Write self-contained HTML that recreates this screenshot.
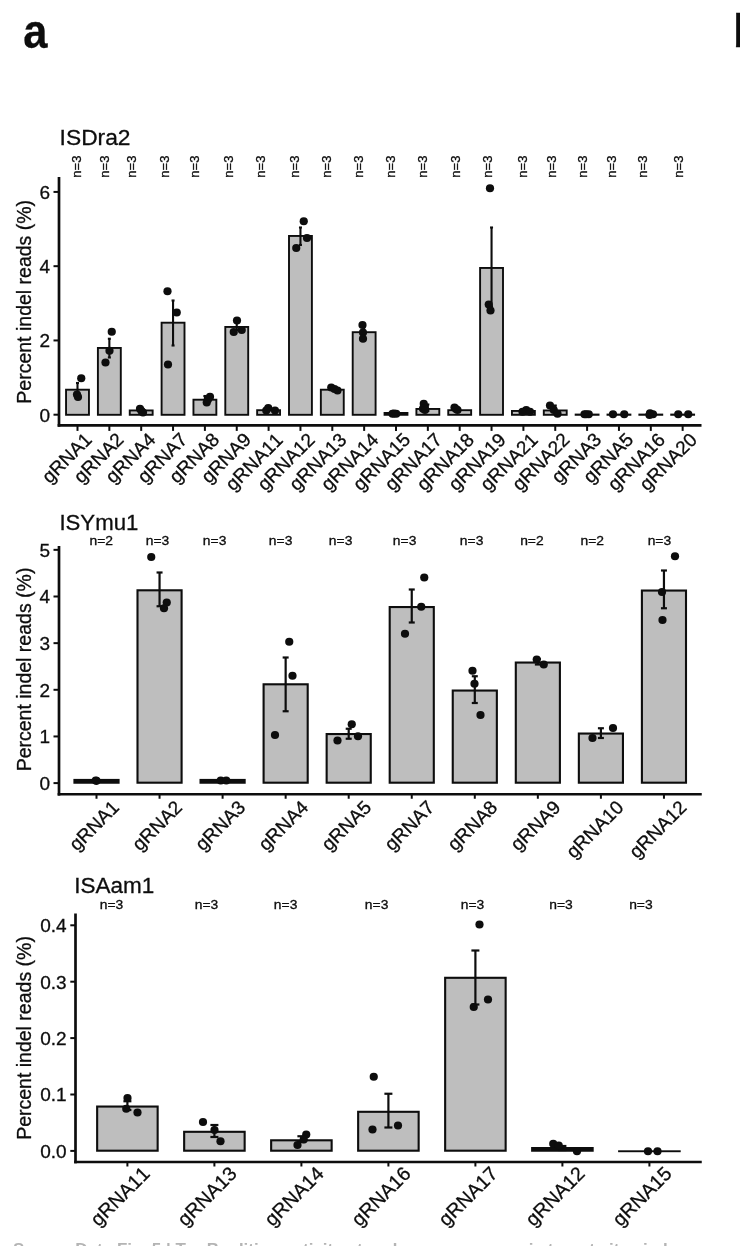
<!DOCTYPE html>
<html lang="en">
<head>
<meta charset="utf-8">
<title>Figure panel a</title>
<style>
html,body{margin:0;padding:0;background:#fff;}
body{width:740px;height:1246px;overflow:hidden;}
svg{display:block;font-family:'Liberation Sans', Arial, Helvetica, sans-serif;font-kerning:none;}
text{stroke:#0d0d0d;stroke-width:0.3px;}
</style>
</head>
<body>
<svg width="740" height="1246" viewBox="0 0 740 1246">
<rect x="0" y="0" width="740" height="1246" fill="#ffffff"/>
<text x="23.20" y="47.60" font-size="49" text-anchor="start" font-weight="bold" fill="#0d0d0d" textLength="24.2" lengthAdjust="spacingAndGlyphs">a</text>
<text x="733.00" y="47.30" font-size="46.5" text-anchor="start" font-weight="bold" fill="#0d0d0d">b</text>
<text x="59.60" y="145.40" font-size="22.8" text-anchor="start" fill="#0d0d0d">ISDra2</text>
<text x="31.20" y="301.80" font-size="19.5" text-anchor="middle" fill="#0d0d0d" transform="rotate(-90 31.20 301.80)">Percent indel reads (%)</text>
<line x1="53.50" y1="414.70" x2="59.00" y2="414.70" stroke="#0d0d0d" stroke-width="2" stroke-linecap="butt"/>
<text x="50.20" y="421.60" font-size="19" text-anchor="end" fill="#0d0d0d">0</text>
<line x1="53.50" y1="340.44" x2="59.00" y2="340.44" stroke="#0d0d0d" stroke-width="2" stroke-linecap="butt"/>
<text x="50.20" y="347.34" font-size="19" text-anchor="end" fill="#0d0d0d">2</text>
<line x1="53.50" y1="266.18" x2="59.00" y2="266.18" stroke="#0d0d0d" stroke-width="2" stroke-linecap="butt"/>
<text x="50.20" y="273.08" font-size="19" text-anchor="end" fill="#0d0d0d">4</text>
<line x1="53.50" y1="191.92" x2="59.00" y2="191.92" stroke="#0d0d0d" stroke-width="2" stroke-linecap="butt"/>
<text x="50.20" y="198.82" font-size="19" text-anchor="end" fill="#0d0d0d">6</text>
<rect x="66.05" y="389.70" width="22.90" height="25.10" fill="#bebebe" stroke="#0d0d0d" stroke-width="1.9"/>
<rect x="97.90" y="347.95" width="22.90" height="66.85" fill="#bebebe" stroke="#0d0d0d" stroke-width="1.9"/>
<rect x="129.75" y="410.45" width="22.90" height="4.35" fill="#bebebe" stroke="#0d0d0d" stroke-width="1.9"/>
<rect x="161.60" y="322.70" width="22.90" height="92.10" fill="#bebebe" stroke="#0d0d0d" stroke-width="1.9"/>
<rect x="193.45" y="399.70" width="22.90" height="15.10" fill="#bebebe" stroke="#0d0d0d" stroke-width="1.9"/>
<rect x="225.30" y="326.95" width="22.90" height="87.85" fill="#bebebe" stroke="#0d0d0d" stroke-width="1.9"/>
<rect x="257.15" y="410.20" width="22.90" height="4.60" fill="#bebebe" stroke="#0d0d0d" stroke-width="1.9"/>
<rect x="289.00" y="235.95" width="22.90" height="178.85" fill="#bebebe" stroke="#0d0d0d" stroke-width="1.9"/>
<rect x="320.85" y="389.70" width="22.90" height="25.10" fill="#bebebe" stroke="#0d0d0d" stroke-width="1.9"/>
<rect x="352.70" y="332.20" width="22.90" height="82.60" fill="#bebebe" stroke="#0d0d0d" stroke-width="1.9"/>
<rect x="383.60" y="412.00" width="24.80" height="3.75" fill="#0d0d0d"/>
<rect x="416.40" y="408.95" width="22.90" height="5.85" fill="#bebebe" stroke="#0d0d0d" stroke-width="1.9"/>
<rect x="448.25" y="410.20" width="22.90" height="4.60" fill="#bebebe" stroke="#0d0d0d" stroke-width="1.9"/>
<rect x="480.10" y="267.95" width="22.90" height="146.85" fill="#bebebe" stroke="#0d0d0d" stroke-width="1.9"/>
<rect x="511.95" y="410.95" width="22.90" height="3.85" fill="#bebebe" stroke="#0d0d0d" stroke-width="1.9"/>
<rect x="543.80" y="410.45" width="22.90" height="4.35" fill="#bebebe" stroke="#0d0d0d" stroke-width="1.9"/>
<rect x="574.70" y="413.60" width="24.80" height="2.15" fill="#0d0d0d"/>
<rect x="606.55" y="413.60" width="24.80" height="2.15" fill="#0d0d0d"/>
<rect x="638.40" y="413.60" width="24.80" height="2.15" fill="#0d0d0d"/>
<rect x="670.25" y="413.60" width="24.80" height="2.15" fill="#0d0d0d"/>
<line x1="77.50" y1="383.00" x2="77.50" y2="396.00" stroke="#0d0d0d" stroke-width="2.1" stroke-linecap="butt"/>
<line x1="76.00" y1="383.00" x2="79.00" y2="383.00" stroke="#0d0d0d" stroke-width="2.1" stroke-linecap="butt"/>
<line x1="76.00" y1="396.00" x2="79.00" y2="396.00" stroke="#0d0d0d" stroke-width="2.1" stroke-linecap="butt"/>
<line x1="109.35" y1="338.75" x2="109.35" y2="357.50" stroke="#0d0d0d" stroke-width="2.1" stroke-linecap="butt"/>
<line x1="107.85" y1="338.75" x2="110.85" y2="338.75" stroke="#0d0d0d" stroke-width="2.1" stroke-linecap="butt"/>
<line x1="107.85" y1="357.50" x2="110.85" y2="357.50" stroke="#0d0d0d" stroke-width="2.1" stroke-linecap="butt"/>
<line x1="173.05" y1="300.50" x2="173.05" y2="345.50" stroke="#0d0d0d" stroke-width="2.1" stroke-linecap="butt"/>
<line x1="171.55" y1="300.50" x2="174.55" y2="300.50" stroke="#0d0d0d" stroke-width="2.1" stroke-linecap="butt"/>
<line x1="171.55" y1="345.50" x2="174.55" y2="345.50" stroke="#0d0d0d" stroke-width="2.1" stroke-linecap="butt"/>
<line x1="204.90" y1="396.00" x2="204.90" y2="402.00" stroke="#0d0d0d" stroke-width="2.1" stroke-linecap="butt"/>
<line x1="203.40" y1="396.00" x2="206.40" y2="396.00" stroke="#0d0d0d" stroke-width="2.1" stroke-linecap="butt"/>
<line x1="203.40" y1="402.00" x2="206.40" y2="402.00" stroke="#0d0d0d" stroke-width="2.1" stroke-linecap="butt"/>
<line x1="236.75" y1="322.50" x2="236.75" y2="330.00" stroke="#0d0d0d" stroke-width="2.1" stroke-linecap="butt"/>
<line x1="235.25" y1="322.50" x2="238.25" y2="322.50" stroke="#0d0d0d" stroke-width="2.1" stroke-linecap="butt"/>
<line x1="235.25" y1="330.00" x2="238.25" y2="330.00" stroke="#0d0d0d" stroke-width="2.1" stroke-linecap="butt"/>
<line x1="300.45" y1="227.50" x2="300.45" y2="245.00" stroke="#0d0d0d" stroke-width="2.1" stroke-linecap="butt"/>
<line x1="298.95" y1="227.50" x2="301.95" y2="227.50" stroke="#0d0d0d" stroke-width="2.1" stroke-linecap="butt"/>
<line x1="298.95" y1="245.00" x2="301.95" y2="245.00" stroke="#0d0d0d" stroke-width="2.1" stroke-linecap="butt"/>
<line x1="364.15" y1="326.50" x2="364.15" y2="337.00" stroke="#0d0d0d" stroke-width="2.1" stroke-linecap="butt"/>
<line x1="362.65" y1="326.50" x2="365.65" y2="326.50" stroke="#0d0d0d" stroke-width="2.1" stroke-linecap="butt"/>
<line x1="362.65" y1="337.00" x2="365.65" y2="337.00" stroke="#0d0d0d" stroke-width="2.1" stroke-linecap="butt"/>
<line x1="491.55" y1="227.50" x2="491.55" y2="306.50" stroke="#0d0d0d" stroke-width="2.1" stroke-linecap="butt"/>
<line x1="490.05" y1="227.50" x2="493.05" y2="227.50" stroke="#0d0d0d" stroke-width="2.1" stroke-linecap="butt"/>
<line x1="490.05" y1="306.50" x2="493.05" y2="306.50" stroke="#0d0d0d" stroke-width="2.1" stroke-linecap="butt"/>
<line x1="427.85" y1="404.50" x2="427.85" y2="411.00" stroke="#0d0d0d" stroke-width="2.1" stroke-linecap="butt"/>
<line x1="426.35" y1="404.50" x2="429.35" y2="404.50" stroke="#0d0d0d" stroke-width="2.1" stroke-linecap="butt"/>
<line x1="426.35" y1="411.00" x2="429.35" y2="411.00" stroke="#0d0d0d" stroke-width="2.1" stroke-linecap="butt"/>
<line x1="555.25" y1="405.50" x2="555.25" y2="413.00" stroke="#0d0d0d" stroke-width="2.1" stroke-linecap="butt"/>
<line x1="553.75" y1="405.50" x2="556.75" y2="405.50" stroke="#0d0d0d" stroke-width="2.1" stroke-linecap="butt"/>
<line x1="553.75" y1="413.00" x2="556.75" y2="413.00" stroke="#0d0d0d" stroke-width="2.1" stroke-linecap="butt"/>
<circle cx="81.25" cy="378.25" r="4.1" fill="#0d0d0d"/>
<circle cx="77.00" cy="394.50" r="4.1" fill="#0d0d0d"/>
<circle cx="78.00" cy="397.00" r="4.1" fill="#0d0d0d"/>
<circle cx="111.75" cy="331.75" r="4.1" fill="#0d0d0d"/>
<circle cx="109.50" cy="350.75" r="4.1" fill="#0d0d0d"/>
<circle cx="105.50" cy="362.50" r="4.1" fill="#0d0d0d"/>
<circle cx="140.00" cy="408.75" r="4.1" fill="#0d0d0d"/>
<circle cx="143.00" cy="412.50" r="4.1" fill="#0d0d0d"/>
<circle cx="141.50" cy="411.00" r="4.1" fill="#0d0d0d"/>
<circle cx="167.50" cy="291.25" r="4.1" fill="#0d0d0d"/>
<circle cx="176.75" cy="312.50" r="4.1" fill="#0d0d0d"/>
<circle cx="168.00" cy="364.50" r="4.1" fill="#0d0d0d"/>
<circle cx="210.00" cy="396.75" r="4.1" fill="#0d0d0d"/>
<circle cx="206.75" cy="402.50" r="4.1" fill="#0d0d0d"/>
<circle cx="208.00" cy="399.50" r="4.1" fill="#0d0d0d"/>
<circle cx="237.00" cy="320.50" r="4.1" fill="#0d0d0d"/>
<circle cx="233.75" cy="332.00" r="4.1" fill="#0d0d0d"/>
<circle cx="241.75" cy="330.00" r="4.1" fill="#0d0d0d"/>
<circle cx="268.25" cy="408.00" r="4.1" fill="#0d0d0d"/>
<circle cx="266.25" cy="410.50" r="4.1" fill="#0d0d0d"/>
<circle cx="275.00" cy="410.50" r="4.1" fill="#0d0d0d"/>
<circle cx="303.75" cy="221.25" r="4.1" fill="#0d0d0d"/>
<circle cx="307.00" cy="238.00" r="4.1" fill="#0d0d0d"/>
<circle cx="296.25" cy="248.00" r="4.1" fill="#0d0d0d"/>
<circle cx="331.25" cy="387.50" r="4.1" fill="#0d0d0d"/>
<circle cx="337.50" cy="390.50" r="4.1" fill="#0d0d0d"/>
<circle cx="334.50" cy="389.00" r="4.1" fill="#0d0d0d"/>
<circle cx="362.50" cy="325.00" r="4.1" fill="#0d0d0d"/>
<circle cx="363.00" cy="332.50" r="4.1" fill="#0d0d0d"/>
<circle cx="363.00" cy="338.75" r="4.1" fill="#0d0d0d"/>
<circle cx="392.50" cy="413.75" r="4.1" fill="#0d0d0d"/>
<circle cx="396.25" cy="413.75" r="4.1" fill="#0d0d0d"/>
<circle cx="394.00" cy="413.50" r="4.1" fill="#0d0d0d"/>
<circle cx="423.75" cy="403.75" r="4.1" fill="#0d0d0d"/>
<circle cx="423.00" cy="408.75" r="4.1" fill="#0d0d0d"/>
<circle cx="425.00" cy="410.00" r="4.1" fill="#0d0d0d"/>
<circle cx="454.50" cy="407.50" r="4.1" fill="#0d0d0d"/>
<circle cx="457.50" cy="410.00" r="4.1" fill="#0d0d0d"/>
<circle cx="456.00" cy="409.00" r="4.1" fill="#0d0d0d"/>
<circle cx="490.00" cy="188.25" r="4.1" fill="#0d0d0d"/>
<circle cx="488.75" cy="304.50" r="4.1" fill="#0d0d0d"/>
<circle cx="490.50" cy="310.50" r="4.1" fill="#0d0d0d"/>
<circle cx="526.25" cy="410.00" r="4.1" fill="#0d0d0d"/>
<circle cx="522.50" cy="411.75" r="4.1" fill="#0d0d0d"/>
<circle cx="530.00" cy="411.75" r="4.1" fill="#0d0d0d"/>
<circle cx="550.00" cy="405.50" r="4.1" fill="#0d0d0d"/>
<circle cx="553.75" cy="410.00" r="4.1" fill="#0d0d0d"/>
<circle cx="557.50" cy="413.75" r="4.1" fill="#0d0d0d"/>
<circle cx="586.25" cy="414.25" r="4.1" fill="#0d0d0d"/>
<circle cx="588.75" cy="414.25" r="4.1" fill="#0d0d0d"/>
<circle cx="584.50" cy="414.25" r="4.1" fill="#0d0d0d"/>
<circle cx="613.00" cy="414.25" r="4.1" fill="#0d0d0d"/>
<circle cx="624.25" cy="414.25" r="4.1" fill="#0d0d0d"/>
<circle cx="650.00" cy="413.25" r="4.1" fill="#0d0d0d"/>
<circle cx="653.00" cy="414.25" r="4.1" fill="#0d0d0d"/>
<circle cx="649.50" cy="415.00" r="4.1" fill="#0d0d0d"/>
<circle cx="678.25" cy="414.25" r="4.1" fill="#0d0d0d"/>
<circle cx="688.25" cy="414.25" r="4.1" fill="#0d0d0d"/>
<line x1="59.00" y1="177.00" x2="59.00" y2="426.75" stroke="#0d0d0d" stroke-width="2.7" stroke-linecap="butt"/>
<line x1="57.65" y1="425.40" x2="701.50" y2="425.40" stroke="#0d0d0d" stroke-width="2.7" stroke-linecap="butt"/>
<line x1="77.50" y1="425.40" x2="77.50" y2="430.90" stroke="#0d0d0d" stroke-width="2" stroke-linecap="butt"/>
<text x="93.00" y="440.90" font-size="19" text-anchor="end" fill="#0d0d0d" transform="rotate(-45 93.00 440.90)">gRNA1</text>
<text x="80.85" y="166.60" font-size="13" text-anchor="middle" fill="#0d0d0d" transform="rotate(-90 80.85 166.60)">n=3</text>
<line x1="109.35" y1="425.40" x2="109.35" y2="430.90" stroke="#0d0d0d" stroke-width="2" stroke-linecap="butt"/>
<text x="124.85" y="440.90" font-size="19" text-anchor="end" fill="#0d0d0d" transform="rotate(-45 124.85 440.90)">gRNA2</text>
<text x="109.10" y="166.60" font-size="13" text-anchor="middle" fill="#0d0d0d" transform="rotate(-90 109.10 166.60)">n=3</text>
<line x1="141.20" y1="425.40" x2="141.20" y2="430.90" stroke="#0d0d0d" stroke-width="2" stroke-linecap="butt"/>
<text x="156.70" y="440.90" font-size="19" text-anchor="end" fill="#0d0d0d" transform="rotate(-45 156.70 440.90)">gRNA4</text>
<text x="135.85" y="166.60" font-size="13" text-anchor="middle" fill="#0d0d0d" transform="rotate(-90 135.85 166.60)">n=3</text>
<line x1="173.05" y1="425.40" x2="173.05" y2="430.90" stroke="#0d0d0d" stroke-width="2" stroke-linecap="butt"/>
<text x="188.55" y="440.90" font-size="19" text-anchor="end" fill="#0d0d0d" transform="rotate(-45 188.55 440.90)">gRNA7</text>
<text x="169.10" y="166.60" font-size="13" text-anchor="middle" fill="#0d0d0d" transform="rotate(-90 169.10 166.60)">n=3</text>
<line x1="204.90" y1="425.40" x2="204.90" y2="430.90" stroke="#0d0d0d" stroke-width="2" stroke-linecap="butt"/>
<text x="220.40" y="440.90" font-size="19" text-anchor="end" fill="#0d0d0d" transform="rotate(-45 220.40 440.90)">gRNA8</text>
<text x="199.10" y="166.60" font-size="13" text-anchor="middle" fill="#0d0d0d" transform="rotate(-90 199.10 166.60)">n=3</text>
<line x1="236.75" y1="425.40" x2="236.75" y2="430.90" stroke="#0d0d0d" stroke-width="2" stroke-linecap="butt"/>
<text x="252.25" y="440.90" font-size="19" text-anchor="end" fill="#0d0d0d" transform="rotate(-45 252.25 440.90)">gRNA9</text>
<text x="233.35" y="166.60" font-size="13" text-anchor="middle" fill="#0d0d0d" transform="rotate(-90 233.35 166.60)">n=3</text>
<line x1="268.60" y1="425.40" x2="268.60" y2="430.90" stroke="#0d0d0d" stroke-width="2" stroke-linecap="butt"/>
<text x="284.10" y="440.90" font-size="19" text-anchor="end" fill="#0d0d0d" transform="rotate(-45 284.10 440.90)">gRNA11</text>
<text x="265.10" y="166.60" font-size="13" text-anchor="middle" fill="#0d0d0d" transform="rotate(-90 265.10 166.60)">n=3</text>
<line x1="300.45" y1="425.40" x2="300.45" y2="430.90" stroke="#0d0d0d" stroke-width="2" stroke-linecap="butt"/>
<text x="315.95" y="440.90" font-size="19" text-anchor="end" fill="#0d0d0d" transform="rotate(-45 315.95 440.90)">gRNA12</text>
<text x="299.10" y="166.60" font-size="13" text-anchor="middle" fill="#0d0d0d" transform="rotate(-90 299.10 166.60)">n=3</text>
<line x1="332.30" y1="425.40" x2="332.30" y2="430.90" stroke="#0d0d0d" stroke-width="2" stroke-linecap="butt"/>
<text x="347.80" y="440.90" font-size="19" text-anchor="end" fill="#0d0d0d" transform="rotate(-45 347.80 440.90)">gRNA13</text>
<text x="330.85" y="166.60" font-size="13" text-anchor="middle" fill="#0d0d0d" transform="rotate(-90 330.85 166.60)">n=3</text>
<line x1="364.15" y1="425.40" x2="364.15" y2="430.90" stroke="#0d0d0d" stroke-width="2" stroke-linecap="butt"/>
<text x="379.65" y="440.90" font-size="19" text-anchor="end" fill="#0d0d0d" transform="rotate(-45 379.65 440.90)">gRNA14</text>
<text x="362.60" y="166.60" font-size="13" text-anchor="middle" fill="#0d0d0d" transform="rotate(-90 362.60 166.60)">n=3</text>
<line x1="396.00" y1="425.40" x2="396.00" y2="430.90" stroke="#0d0d0d" stroke-width="2" stroke-linecap="butt"/>
<text x="411.50" y="440.90" font-size="19" text-anchor="end" fill="#0d0d0d" transform="rotate(-45 411.50 440.90)">gRNA15</text>
<text x="394.60" y="166.60" font-size="13" text-anchor="middle" fill="#0d0d0d" transform="rotate(-90 394.60 166.60)">n=3</text>
<line x1="427.85" y1="425.40" x2="427.85" y2="430.90" stroke="#0d0d0d" stroke-width="2" stroke-linecap="butt"/>
<text x="443.35" y="440.90" font-size="19" text-anchor="end" fill="#0d0d0d" transform="rotate(-45 443.35 440.90)">gRNA17</text>
<text x="427.10" y="166.60" font-size="13" text-anchor="middle" fill="#0d0d0d" transform="rotate(-90 427.10 166.60)">n=3</text>
<line x1="459.70" y1="425.40" x2="459.70" y2="430.90" stroke="#0d0d0d" stroke-width="2" stroke-linecap="butt"/>
<text x="475.20" y="440.90" font-size="19" text-anchor="end" fill="#0d0d0d" transform="rotate(-45 475.20 440.90)">gRNA18</text>
<text x="460.10" y="166.60" font-size="13" text-anchor="middle" fill="#0d0d0d" transform="rotate(-90 460.10 166.60)">n=3</text>
<line x1="491.55" y1="425.40" x2="491.55" y2="430.90" stroke="#0d0d0d" stroke-width="2" stroke-linecap="butt"/>
<text x="507.05" y="440.90" font-size="19" text-anchor="end" fill="#0d0d0d" transform="rotate(-45 507.05 440.90)">gRNA19</text>
<text x="492.10" y="166.60" font-size="13" text-anchor="middle" fill="#0d0d0d" transform="rotate(-90 492.10 166.60)">n=3</text>
<line x1="523.40" y1="425.40" x2="523.40" y2="430.90" stroke="#0d0d0d" stroke-width="2" stroke-linecap="butt"/>
<text x="538.90" y="440.90" font-size="19" text-anchor="end" fill="#0d0d0d" transform="rotate(-45 538.90 440.90)">gRNA21</text>
<text x="527.10" y="166.60" font-size="13" text-anchor="middle" fill="#0d0d0d" transform="rotate(-90 527.10 166.60)">n=3</text>
<line x1="555.25" y1="425.40" x2="555.25" y2="430.90" stroke="#0d0d0d" stroke-width="2" stroke-linecap="butt"/>
<text x="570.75" y="440.90" font-size="19" text-anchor="end" fill="#0d0d0d" transform="rotate(-45 570.75 440.90)">gRNA22</text>
<text x="555.85" y="166.60" font-size="13" text-anchor="middle" fill="#0d0d0d" transform="rotate(-90 555.85 166.60)">n=3</text>
<line x1="587.10" y1="425.40" x2="587.10" y2="430.90" stroke="#0d0d0d" stroke-width="2" stroke-linecap="butt"/>
<text x="602.60" y="440.90" font-size="19" text-anchor="end" fill="#0d0d0d" transform="rotate(-45 602.60 440.90)">gRNA3</text>
<text x="587.10" y="166.60" font-size="13" text-anchor="middle" fill="#0d0d0d" transform="rotate(-90 587.10 166.60)">n=3</text>
<line x1="618.95" y1="425.40" x2="618.95" y2="430.90" stroke="#0d0d0d" stroke-width="2" stroke-linecap="butt"/>
<text x="634.45" y="440.90" font-size="19" text-anchor="end" fill="#0d0d0d" transform="rotate(-45 634.45 440.90)">gRNA5</text>
<text x="615.85" y="166.60" font-size="13" text-anchor="middle" fill="#0d0d0d" transform="rotate(-90 615.85 166.60)">n=3</text>
<line x1="650.80" y1="425.40" x2="650.80" y2="430.90" stroke="#0d0d0d" stroke-width="2" stroke-linecap="butt"/>
<text x="666.30" y="440.90" font-size="19" text-anchor="end" fill="#0d0d0d" transform="rotate(-45 666.30 440.90)">gRNA16</text>
<text x="646.60" y="166.60" font-size="13" text-anchor="middle" fill="#0d0d0d" transform="rotate(-90 646.60 166.60)">n=3</text>
<line x1="682.65" y1="425.40" x2="682.65" y2="430.90" stroke="#0d0d0d" stroke-width="2" stroke-linecap="butt"/>
<text x="698.15" y="440.90" font-size="19" text-anchor="end" fill="#0d0d0d" transform="rotate(-45 698.15 440.90)">gRNA20</text>
<text x="683.35" y="166.60" font-size="13" text-anchor="middle" fill="#0d0d0d" transform="rotate(-90 683.35 166.60)">n=3</text>
<text x="59.40" y="530.20" font-size="22.2" text-anchor="start" fill="#0d0d0d">ISYmu1</text>
<text x="31.20" y="669.50" font-size="19.5" text-anchor="middle" fill="#0d0d0d" transform="rotate(-90 31.20 669.50)">Percent indel reads (%)</text>
<line x1="53.50" y1="783.10" x2="59.00" y2="783.10" stroke="#0d0d0d" stroke-width="2" stroke-linecap="butt"/>
<text x="50.20" y="790.00" font-size="19" text-anchor="end" fill="#0d0d0d">0</text>
<line x1="53.50" y1="736.45" x2="59.00" y2="736.45" stroke="#0d0d0d" stroke-width="2" stroke-linecap="butt"/>
<text x="50.20" y="743.35" font-size="19" text-anchor="end" fill="#0d0d0d">1</text>
<line x1="53.50" y1="689.80" x2="59.00" y2="689.80" stroke="#0d0d0d" stroke-width="2" stroke-linecap="butt"/>
<text x="50.20" y="696.70" font-size="19" text-anchor="end" fill="#0d0d0d">2</text>
<line x1="53.50" y1="643.15" x2="59.00" y2="643.15" stroke="#0d0d0d" stroke-width="2" stroke-linecap="butt"/>
<text x="50.20" y="650.05" font-size="19" text-anchor="end" fill="#0d0d0d">3</text>
<line x1="53.50" y1="596.50" x2="59.00" y2="596.50" stroke="#0d0d0d" stroke-width="2" stroke-linecap="butt"/>
<text x="50.20" y="603.40" font-size="19" text-anchor="end" fill="#0d0d0d">4</text>
<line x1="53.50" y1="549.85" x2="59.00" y2="549.85" stroke="#0d0d0d" stroke-width="2" stroke-linecap="butt"/>
<text x="50.20" y="556.75" font-size="19" text-anchor="end" fill="#0d0d0d">5</text>
<rect x="73.40" y="778.90" width="46.20" height="4.85" fill="#0d0d0d"/>
<rect x="137.50" y="590.30" width="44.10" height="192.40" fill="#bebebe" stroke="#0d0d0d" stroke-width="2.1"/>
<rect x="199.50" y="778.90" width="46.20" height="4.85" fill="#0d0d0d"/>
<rect x="263.60" y="684.30" width="44.10" height="98.40" fill="#bebebe" stroke="#0d0d0d" stroke-width="2.1"/>
<rect x="326.65" y="734.05" width="44.10" height="48.65" fill="#bebebe" stroke="#0d0d0d" stroke-width="2.1"/>
<rect x="389.70" y="607.05" width="44.10" height="175.65" fill="#bebebe" stroke="#0d0d0d" stroke-width="2.1"/>
<rect x="452.75" y="690.55" width="44.10" height="92.15" fill="#bebebe" stroke="#0d0d0d" stroke-width="2.1"/>
<rect x="515.80" y="662.55" width="44.10" height="120.15" fill="#bebebe" stroke="#0d0d0d" stroke-width="2.1"/>
<rect x="578.85" y="733.55" width="44.10" height="49.15" fill="#bebebe" stroke="#0d0d0d" stroke-width="2.1"/>
<rect x="641.90" y="590.55" width="44.10" height="192.15" fill="#bebebe" stroke="#0d0d0d" stroke-width="2.1"/>
<line x1="159.55" y1="572.50" x2="159.55" y2="606.25" stroke="#0d0d0d" stroke-width="2.2" stroke-linecap="butt"/>
<line x1="156.55" y1="572.50" x2="162.55" y2="572.50" stroke="#0d0d0d" stroke-width="2.2" stroke-linecap="butt"/>
<line x1="156.55" y1="606.25" x2="162.55" y2="606.25" stroke="#0d0d0d" stroke-width="2.2" stroke-linecap="butt"/>
<line x1="285.65" y1="657.50" x2="285.65" y2="711.25" stroke="#0d0d0d" stroke-width="2.2" stroke-linecap="butt"/>
<line x1="282.65" y1="657.50" x2="288.65" y2="657.50" stroke="#0d0d0d" stroke-width="2.2" stroke-linecap="butt"/>
<line x1="282.65" y1="711.25" x2="288.65" y2="711.25" stroke="#0d0d0d" stroke-width="2.2" stroke-linecap="butt"/>
<line x1="348.70" y1="728.75" x2="348.70" y2="738.75" stroke="#0d0d0d" stroke-width="2.2" stroke-linecap="butt"/>
<line x1="345.70" y1="728.75" x2="351.70" y2="728.75" stroke="#0d0d0d" stroke-width="2.2" stroke-linecap="butt"/>
<line x1="345.70" y1="738.75" x2="351.70" y2="738.75" stroke="#0d0d0d" stroke-width="2.2" stroke-linecap="butt"/>
<line x1="411.75" y1="589.50" x2="411.75" y2="622.50" stroke="#0d0d0d" stroke-width="2.2" stroke-linecap="butt"/>
<line x1="408.75" y1="589.50" x2="414.75" y2="589.50" stroke="#0d0d0d" stroke-width="2.2" stroke-linecap="butt"/>
<line x1="408.75" y1="622.50" x2="414.75" y2="622.50" stroke="#0d0d0d" stroke-width="2.2" stroke-linecap="butt"/>
<line x1="474.80" y1="676.25" x2="474.80" y2="703.00" stroke="#0d0d0d" stroke-width="2.2" stroke-linecap="butt"/>
<line x1="471.80" y1="676.25" x2="477.80" y2="676.25" stroke="#0d0d0d" stroke-width="2.2" stroke-linecap="butt"/>
<line x1="471.80" y1="703.00" x2="477.80" y2="703.00" stroke="#0d0d0d" stroke-width="2.2" stroke-linecap="butt"/>
<line x1="537.85" y1="659.00" x2="537.85" y2="664.50" stroke="#0d0d0d" stroke-width="2.2" stroke-linecap="butt"/>
<line x1="534.85" y1="659.00" x2="540.85" y2="659.00" stroke="#0d0d0d" stroke-width="2.2" stroke-linecap="butt"/>
<line x1="534.85" y1="664.50" x2="540.85" y2="664.50" stroke="#0d0d0d" stroke-width="2.2" stroke-linecap="butt"/>
<line x1="600.90" y1="728.25" x2="600.90" y2="738.00" stroke="#0d0d0d" stroke-width="2.2" stroke-linecap="butt"/>
<line x1="597.90" y1="728.25" x2="603.90" y2="728.25" stroke="#0d0d0d" stroke-width="2.2" stroke-linecap="butt"/>
<line x1="597.90" y1="738.00" x2="603.90" y2="738.00" stroke="#0d0d0d" stroke-width="2.2" stroke-linecap="butt"/>
<line x1="663.95" y1="570.50" x2="663.95" y2="608.25" stroke="#0d0d0d" stroke-width="2.2" stroke-linecap="butt"/>
<line x1="660.95" y1="570.50" x2="666.95" y2="570.50" stroke="#0d0d0d" stroke-width="2.2" stroke-linecap="butt"/>
<line x1="660.95" y1="608.25" x2="666.95" y2="608.25" stroke="#0d0d0d" stroke-width="2.2" stroke-linecap="butt"/>
<circle cx="95.75" cy="780.50" r="4.1" fill="#0d0d0d"/>
<circle cx="96.50" cy="780.80" r="4.1" fill="#0d0d0d"/>
<circle cx="151.25" cy="557.00" r="4.1" fill="#0d0d0d"/>
<circle cx="166.75" cy="602.50" r="4.1" fill="#0d0d0d"/>
<circle cx="164.00" cy="608.25" r="4.1" fill="#0d0d0d"/>
<circle cx="220.75" cy="780.50" r="4.1" fill="#0d0d0d"/>
<circle cx="226.25" cy="780.50" r="4.1" fill="#0d0d0d"/>
<circle cx="289.25" cy="641.75" r="4.1" fill="#0d0d0d"/>
<circle cx="292.50" cy="675.75" r="4.1" fill="#0d0d0d"/>
<circle cx="275.00" cy="735.00" r="4.1" fill="#0d0d0d"/>
<circle cx="351.75" cy="724.25" r="4.1" fill="#0d0d0d"/>
<circle cx="337.50" cy="740.50" r="4.1" fill="#0d0d0d"/>
<circle cx="358.00" cy="736.25" r="4.1" fill="#0d0d0d"/>
<circle cx="424.25" cy="577.50" r="4.1" fill="#0d0d0d"/>
<circle cx="421.25" cy="606.75" r="4.1" fill="#0d0d0d"/>
<circle cx="405.00" cy="633.75" r="4.1" fill="#0d0d0d"/>
<circle cx="472.50" cy="670.75" r="4.1" fill="#0d0d0d"/>
<circle cx="474.50" cy="683.75" r="4.1" fill="#0d0d0d"/>
<circle cx="480.50" cy="715.00" r="4.1" fill="#0d0d0d"/>
<circle cx="536.75" cy="659.50" r="4.1" fill="#0d0d0d"/>
<circle cx="543.75" cy="664.50" r="4.1" fill="#0d0d0d"/>
<circle cx="613.00" cy="728.00" r="4.1" fill="#0d0d0d"/>
<circle cx="592.50" cy="738.00" r="4.1" fill="#0d0d0d"/>
<circle cx="675.00" cy="556.25" r="4.1" fill="#0d0d0d"/>
<circle cx="662.00" cy="592.00" r="4.1" fill="#0d0d0d"/>
<circle cx="662.50" cy="620.00" r="4.1" fill="#0d0d0d"/>
<line x1="59.00" y1="546.00" x2="59.00" y2="795.60" stroke="#0d0d0d" stroke-width="2.7" stroke-linecap="butt"/>
<line x1="57.65" y1="794.25" x2="701.75" y2="794.25" stroke="#0d0d0d" stroke-width="2.7" stroke-linecap="butt"/>
<line x1="96.50" y1="794.25" x2="96.50" y2="798.75" stroke="#0d0d0d" stroke-width="2" stroke-linecap="butt"/>
<text x="120.30" y="808.55" font-size="19" text-anchor="end" fill="#0d0d0d" transform="rotate(-45 120.30 808.55)">gRNA1</text>
<line x1="159.55" y1="794.25" x2="159.55" y2="798.75" stroke="#0d0d0d" stroke-width="2" stroke-linecap="butt"/>
<text x="183.35" y="808.55" font-size="19" text-anchor="end" fill="#0d0d0d" transform="rotate(-45 183.35 808.55)">gRNA2</text>
<line x1="222.60" y1="794.25" x2="222.60" y2="798.75" stroke="#0d0d0d" stroke-width="2" stroke-linecap="butt"/>
<text x="246.40" y="808.55" font-size="19" text-anchor="end" fill="#0d0d0d" transform="rotate(-45 246.40 808.55)">gRNA3</text>
<line x1="285.65" y1="794.25" x2="285.65" y2="798.75" stroke="#0d0d0d" stroke-width="2" stroke-linecap="butt"/>
<text x="309.45" y="808.55" font-size="19" text-anchor="end" fill="#0d0d0d" transform="rotate(-45 309.45 808.55)">gRNA4</text>
<line x1="348.70" y1="794.25" x2="348.70" y2="798.75" stroke="#0d0d0d" stroke-width="2" stroke-linecap="butt"/>
<text x="372.50" y="808.55" font-size="19" text-anchor="end" fill="#0d0d0d" transform="rotate(-45 372.50 808.55)">gRNA5</text>
<line x1="411.75" y1="794.25" x2="411.75" y2="798.75" stroke="#0d0d0d" stroke-width="2" stroke-linecap="butt"/>
<text x="435.55" y="808.55" font-size="19" text-anchor="end" fill="#0d0d0d" transform="rotate(-45 435.55 808.55)">gRNA7</text>
<line x1="474.80" y1="794.25" x2="474.80" y2="798.75" stroke="#0d0d0d" stroke-width="2" stroke-linecap="butt"/>
<text x="498.60" y="808.55" font-size="19" text-anchor="end" fill="#0d0d0d" transform="rotate(-45 498.60 808.55)">gRNA8</text>
<line x1="537.85" y1="794.25" x2="537.85" y2="798.75" stroke="#0d0d0d" stroke-width="2" stroke-linecap="butt"/>
<text x="561.65" y="808.55" font-size="19" text-anchor="end" fill="#0d0d0d" transform="rotate(-45 561.65 808.55)">gRNA9</text>
<line x1="600.90" y1="794.25" x2="600.90" y2="798.75" stroke="#0d0d0d" stroke-width="2" stroke-linecap="butt"/>
<text x="624.70" y="808.55" font-size="19" text-anchor="end" fill="#0d0d0d" transform="rotate(-45 624.70 808.55)">gRNA10</text>
<line x1="663.95" y1="794.25" x2="663.95" y2="798.75" stroke="#0d0d0d" stroke-width="2" stroke-linecap="butt"/>
<text x="687.75" y="808.55" font-size="19" text-anchor="end" fill="#0d0d0d" transform="rotate(-45 687.75 808.55)">gRNA12</text>
<text x="101.25" y="545.40" font-size="12.2" text-anchor="middle" fill="#0d0d0d" textLength="23.5" lengthAdjust="spacingAndGlyphs">n=2</text>
<text x="157.50" y="545.40" font-size="12.2" text-anchor="middle" fill="#0d0d0d" textLength="23.5" lengthAdjust="spacingAndGlyphs">n=3</text>
<text x="214.60" y="545.40" font-size="12.2" text-anchor="middle" fill="#0d0d0d" textLength="23.5" lengthAdjust="spacingAndGlyphs">n=3</text>
<text x="280.60" y="545.40" font-size="12.2" text-anchor="middle" fill="#0d0d0d" textLength="23.5" lengthAdjust="spacingAndGlyphs">n=3</text>
<text x="340.60" y="545.40" font-size="12.2" text-anchor="middle" fill="#0d0d0d" textLength="23.5" lengthAdjust="spacingAndGlyphs">n=3</text>
<text x="404.60" y="545.40" font-size="12.2" text-anchor="middle" fill="#0d0d0d" textLength="23.5" lengthAdjust="spacingAndGlyphs">n=3</text>
<text x="471.60" y="545.40" font-size="12.2" text-anchor="middle" fill="#0d0d0d" textLength="23.5" lengthAdjust="spacingAndGlyphs">n=3</text>
<text x="531.90" y="545.40" font-size="12.2" text-anchor="middle" fill="#0d0d0d" textLength="23.5" lengthAdjust="spacingAndGlyphs">n=2</text>
<text x="592.25" y="545.40" font-size="12.2" text-anchor="middle" fill="#0d0d0d" textLength="23.5" lengthAdjust="spacingAndGlyphs">n=2</text>
<text x="659.40" y="545.40" font-size="12.2" text-anchor="middle" fill="#0d0d0d" textLength="23.5" lengthAdjust="spacingAndGlyphs">n=3</text>
<text x="74.20" y="893.00" font-size="22.5" text-anchor="start" fill="#0d0d0d">ISAam1</text>
<text x="31.20" y="1038.00" font-size="19.5" text-anchor="middle" fill="#0d0d0d" transform="rotate(-90 31.20 1038.00)">Percent indel reads (%)</text>
<line x1="70.30" y1="1150.90" x2="75.50" y2="1150.90" stroke="#0d0d0d" stroke-width="2" stroke-linecap="butt"/>
<text x="66.60" y="1157.80" font-size="19" text-anchor="end" fill="#0d0d0d">0.0</text>
<line x1="70.30" y1="1094.50" x2="75.50" y2="1094.50" stroke="#0d0d0d" stroke-width="2" stroke-linecap="butt"/>
<text x="66.60" y="1101.40" font-size="19" text-anchor="end" fill="#0d0d0d">0.1</text>
<line x1="70.30" y1="1038.10" x2="75.50" y2="1038.10" stroke="#0d0d0d" stroke-width="2" stroke-linecap="butt"/>
<text x="66.60" y="1045.00" font-size="19" text-anchor="end" fill="#0d0d0d">0.2</text>
<line x1="70.30" y1="981.70" x2="75.50" y2="981.70" stroke="#0d0d0d" stroke-width="2" stroke-linecap="butt"/>
<text x="66.60" y="988.60" font-size="19" text-anchor="end" fill="#0d0d0d">0.3</text>
<line x1="70.30" y1="925.30" x2="75.50" y2="925.30" stroke="#0d0d0d" stroke-width="2" stroke-linecap="butt"/>
<text x="66.60" y="932.20" font-size="19" text-anchor="end" fill="#0d0d0d">0.4</text>
<rect x="97.15" y="1106.55" width="60.50" height="44.15" fill="#bebebe" stroke="#0d0d0d" stroke-width="2.1"/>
<rect x="184.15" y="1131.80" width="60.50" height="18.90" fill="#bebebe" stroke="#0d0d0d" stroke-width="2.1"/>
<rect x="271.15" y="1140.30" width="60.50" height="10.40" fill="#bebebe" stroke="#0d0d0d" stroke-width="2.1"/>
<rect x="358.15" y="1111.80" width="60.50" height="38.90" fill="#bebebe" stroke="#0d0d0d" stroke-width="2.1"/>
<rect x="445.15" y="977.80" width="60.50" height="172.90" fill="#bebebe" stroke="#0d0d0d" stroke-width="2.1"/>
<rect x="531.10" y="1147.00" width="62.60" height="4.75" fill="#0d0d0d"/>
<rect x="618.10" y="1150.30" width="62.60" height="1.90" fill="#0d0d0d"/>
<line x1="127.40" y1="1101.25" x2="127.40" y2="1110.00" stroke="#0d0d0d" stroke-width="2.2" stroke-linecap="butt"/>
<line x1="123.40" y1="1101.25" x2="131.40" y2="1101.25" stroke="#0d0d0d" stroke-width="2.2" stroke-linecap="butt"/>
<line x1="123.40" y1="1110.00" x2="131.40" y2="1110.00" stroke="#0d0d0d" stroke-width="2.2" stroke-linecap="butt"/>
<line x1="214.40" y1="1125.00" x2="214.40" y2="1137.00" stroke="#0d0d0d" stroke-width="2.2" stroke-linecap="butt"/>
<line x1="210.40" y1="1125.00" x2="218.40" y2="1125.00" stroke="#0d0d0d" stroke-width="2.2" stroke-linecap="butt"/>
<line x1="210.40" y1="1137.00" x2="218.40" y2="1137.00" stroke="#0d0d0d" stroke-width="2.2" stroke-linecap="butt"/>
<line x1="301.40" y1="1136.25" x2="301.40" y2="1142.00" stroke="#0d0d0d" stroke-width="2.2" stroke-linecap="butt"/>
<line x1="297.40" y1="1136.25" x2="305.40" y2="1136.25" stroke="#0d0d0d" stroke-width="2.2" stroke-linecap="butt"/>
<line x1="297.40" y1="1142.00" x2="305.40" y2="1142.00" stroke="#0d0d0d" stroke-width="2.2" stroke-linecap="butt"/>
<line x1="388.40" y1="1093.75" x2="388.40" y2="1127.50" stroke="#0d0d0d" stroke-width="2.2" stroke-linecap="butt"/>
<line x1="384.40" y1="1093.75" x2="392.40" y2="1093.75" stroke="#0d0d0d" stroke-width="2.2" stroke-linecap="butt"/>
<line x1="384.40" y1="1127.50" x2="392.40" y2="1127.50" stroke="#0d0d0d" stroke-width="2.2" stroke-linecap="butt"/>
<line x1="475.40" y1="950.50" x2="475.40" y2="1004.50" stroke="#0d0d0d" stroke-width="2.2" stroke-linecap="butt"/>
<line x1="471.40" y1="950.50" x2="479.40" y2="950.50" stroke="#0d0d0d" stroke-width="2.2" stroke-linecap="butt"/>
<line x1="471.40" y1="1004.50" x2="479.40" y2="1004.50" stroke="#0d0d0d" stroke-width="2.2" stroke-linecap="butt"/>
<line x1="562.40" y1="1146.00" x2="562.40" y2="1150.00" stroke="#0d0d0d" stroke-width="2.2" stroke-linecap="butt"/>
<line x1="558.40" y1="1146.00" x2="566.40" y2="1146.00" stroke="#0d0d0d" stroke-width="2.2" stroke-linecap="butt"/>
<line x1="558.40" y1="1150.00" x2="566.40" y2="1150.00" stroke="#0d0d0d" stroke-width="2.2" stroke-linecap="butt"/>
<circle cx="127.50" cy="1098.00" r="4.1" fill="#0d0d0d"/>
<circle cx="126.25" cy="1108.75" r="4.1" fill="#0d0d0d"/>
<circle cx="137.50" cy="1112.50" r="4.1" fill="#0d0d0d"/>
<circle cx="203.00" cy="1122.00" r="4.1" fill="#0d0d0d"/>
<circle cx="220.50" cy="1141.25" r="4.1" fill="#0d0d0d"/>
<circle cx="214.50" cy="1130.00" r="4.1" fill="#0d0d0d"/>
<circle cx="306.25" cy="1134.50" r="4.1" fill="#0d0d0d"/>
<circle cx="303.75" cy="1139.50" r="4.1" fill="#0d0d0d"/>
<circle cx="297.50" cy="1145.00" r="4.1" fill="#0d0d0d"/>
<circle cx="373.75" cy="1076.75" r="4.1" fill="#0d0d0d"/>
<circle cx="372.50" cy="1129.50" r="4.1" fill="#0d0d0d"/>
<circle cx="398.00" cy="1125.50" r="4.1" fill="#0d0d0d"/>
<circle cx="479.50" cy="924.50" r="4.1" fill="#0d0d0d"/>
<circle cx="488.00" cy="999.50" r="4.1" fill="#0d0d0d"/>
<circle cx="473.75" cy="1007.00" r="4.1" fill="#0d0d0d"/>
<circle cx="553.25" cy="1143.75" r="4.1" fill="#0d0d0d"/>
<circle cx="558.75" cy="1145.50" r="4.1" fill="#0d0d0d"/>
<circle cx="577.00" cy="1151.25" r="4.1" fill="#0d0d0d"/>
<circle cx="648.00" cy="1151.25" r="4.1" fill="#0d0d0d"/>
<circle cx="657.50" cy="1151.25" r="4.1" fill="#0d0d0d"/>
<line x1="75.50" y1="913.50" x2="75.50" y2="1163.35" stroke="#0d0d0d" stroke-width="2.7" stroke-linecap="butt"/>
<line x1="74.15" y1="1162.00" x2="701.75" y2="1162.00" stroke="#0d0d0d" stroke-width="2.7" stroke-linecap="butt"/>
<line x1="127.40" y1="1162.00" x2="127.40" y2="1166.50" stroke="#0d0d0d" stroke-width="2" stroke-linecap="butt"/>
<text x="150.90" y="1174.80" font-size="19.6" text-anchor="end" fill="#0d0d0d" transform="rotate(-45 150.90 1174.80)">gRNA11</text>
<line x1="214.40" y1="1162.00" x2="214.40" y2="1166.50" stroke="#0d0d0d" stroke-width="2" stroke-linecap="butt"/>
<text x="237.90" y="1174.80" font-size="19.6" text-anchor="end" fill="#0d0d0d" transform="rotate(-45 237.90 1174.80)">gRNA13</text>
<line x1="301.40" y1="1162.00" x2="301.40" y2="1166.50" stroke="#0d0d0d" stroke-width="2" stroke-linecap="butt"/>
<text x="324.90" y="1174.80" font-size="19.6" text-anchor="end" fill="#0d0d0d" transform="rotate(-45 324.90 1174.80)">gRNA14</text>
<line x1="388.40" y1="1162.00" x2="388.40" y2="1166.50" stroke="#0d0d0d" stroke-width="2" stroke-linecap="butt"/>
<text x="411.90" y="1174.80" font-size="19.6" text-anchor="end" fill="#0d0d0d" transform="rotate(-45 411.90 1174.80)">gRNA16</text>
<line x1="475.40" y1="1162.00" x2="475.40" y2="1166.50" stroke="#0d0d0d" stroke-width="2" stroke-linecap="butt"/>
<text x="498.90" y="1174.80" font-size="19.6" text-anchor="end" fill="#0d0d0d" transform="rotate(-45 498.90 1174.80)">gRNA17</text>
<line x1="562.40" y1="1162.00" x2="562.40" y2="1166.50" stroke="#0d0d0d" stroke-width="2" stroke-linecap="butt"/>
<text x="585.90" y="1174.80" font-size="19.6" text-anchor="end" fill="#0d0d0d" transform="rotate(-45 585.90 1174.80)">gRNA12</text>
<line x1="649.40" y1="1162.00" x2="649.40" y2="1166.50" stroke="#0d0d0d" stroke-width="2" stroke-linecap="butt"/>
<text x="672.90" y="1174.80" font-size="19.6" text-anchor="end" fill="#0d0d0d" transform="rotate(-45 672.90 1174.80)">gRNA15</text>
<text x="111.50" y="909.30" font-size="12.2" text-anchor="middle" fill="#0d0d0d" textLength="23.5" lengthAdjust="spacingAndGlyphs">n=3</text>
<text x="206.50" y="909.30" font-size="12.2" text-anchor="middle" fill="#0d0d0d" textLength="23.5" lengthAdjust="spacingAndGlyphs">n=3</text>
<text x="285.60" y="909.30" font-size="12.2" text-anchor="middle" fill="#0d0d0d" textLength="23.5" lengthAdjust="spacingAndGlyphs">n=3</text>
<text x="376.60" y="909.30" font-size="12.2" text-anchor="middle" fill="#0d0d0d" textLength="23.5" lengthAdjust="spacingAndGlyphs">n=3</text>
<text x="472.50" y="909.30" font-size="12.2" text-anchor="middle" fill="#0d0d0d" textLength="23.5" lengthAdjust="spacingAndGlyphs">n=3</text>
<text x="561.00" y="909.30" font-size="12.2" text-anchor="middle" fill="#0d0d0d" textLength="23.5" lengthAdjust="spacingAndGlyphs">n=3</text>
<text x="640.90" y="909.30" font-size="12.2" text-anchor="middle" fill="#0d0d0d" textLength="23.5" lengthAdjust="spacingAndGlyphs">n=3</text>
<text x="13.00" y="1255.40" font-size="17" text-anchor="start" font-weight="bold" fill="#b4b4b4" style="stroke:none">Source Data Fig. 5 | TnpB editing activity at endogenous genomic target sites in human cells.</text>
</svg>
</body>
</html>
